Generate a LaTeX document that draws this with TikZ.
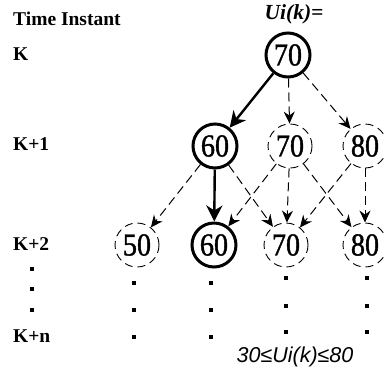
\documentclass[tikz,border=0pt]{standalone}
\usepackage{fontspec}
\setmainfont{Liberation Serif}
\newfontfamily\arialf{Liberation Sans}
\newfontfamily\numf[FakeStretch=0.88,FakeBold=1.2]{Liberation Serif}
\usetikzlibrary{arrows.meta}
\begin{document}
\begin{tikzpicture}[x=1pt,y=-1pt,
  lbl/.style={anchor=base west, inner sep=0pt, font=\fontsize{19.5}{19.5}\selectfont\bfseries},
  val/.style={circle, minimum size=44pt, inner sep=0pt, font=\numf\fontsize{32}{32}\selectfont},
  sel/.style={val, draw, line width=3pt},
  alt/.style={val, draw, line width=0.9pt, dash pattern=on 8pt off 5pt},
  main/.style={line width=2.4pt, -{Stealth[length=16pt, width=16pt, inset=5pt]}},
  opt/.style={line width=1pt, dash pattern=on 9pt off 5pt, -{Stealth[length=12pt, width=11pt, inset=4pt]}},
  dotm/.style={fill, minimum size=3.2pt, inner sep=0pt, rectangle}
]
\useasboundingbox (0,0) rectangle (385,376);
% labels
\node[lbl] (ti) at (13,25) {Time Instant};
\node[lbl] (lk) at (13,60) {K};
\node[lbl] (lk1) at (13,150) {K+1};
\node[lbl] (lk2) at (13,250) {K+2};
\node[lbl] (lkn) at (13,342) {K+n};
\node[anchor=base, inner sep=0pt, font=\fontsize{21.5}{21.5}\selectfont\bfseries\itshape] (uk) at (294,19) {Ui(k)=};
\node[anchor=base, inner sep=0pt, font=\arialf\fontsize{21.5}{21.5}\selectfont\itshape] (rng) at (295,362) {30≤Ui(k)≤80};
% circles
\node[sel] (a) at (288,55) {70};
\node[sel] (b1) at (215,146) {60};
\node[alt] (b2) at (290,146) {70};
\node[alt] (b3) at (365,146) {80};
\node[alt] (c1) at (137,245) {50};
\node[sel] (c2) at (214,245) {60};
\node[alt] (c3) at (286,245) {70};
\node[alt] (c4) at (365,245) {80};
% arrows
\draw[main] (a) -- (b1);
\draw[opt] (a) -- (b2);
\draw[opt] (a) -- (b3);
\draw[opt] (b1) -- (c1);
\draw[main] (b1) -- (c2);
\draw[opt] (b1) -- (c3);
\draw[opt] (b2) -- (c2);
\draw[opt] (b2) -- (c3);
\draw[opt] (b2) -- (c4);
\draw[opt] (b3) -- (c3);
\draw[opt] (b3) -- (c4);
% dots
\foreach \y [count=\i] in {269,289,310} {\node[dotm] (dl\i) at (32,\y) {};}
\foreach \y [count=\i] in {283,310,337} {\node[dotm] (d1\i) at (134,\y) {}; \node[dotm] (d2\i) at (211,\y) {};}
\foreach \y [count=\i] in {278,306,332} {\node[dotm] (d3\i) at (286,\y) {}; \node[dotm] (d4\i) at (367,\y) {};}
\end{tikzpicture}
\end{document}
